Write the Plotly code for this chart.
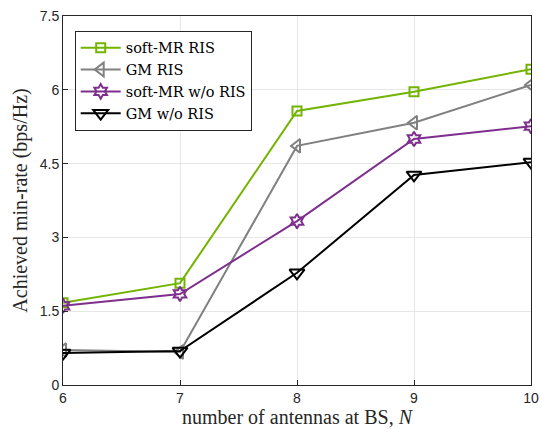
import plotly.graph_objects as go

N = [6, 7, 8, 9, 10]
soft_mr_ris = [1.67, 2.07, 5.57, 5.96, 6.42]
gm_ris = [0.71, 0.67, 4.86, 5.33, 6.10]
soft_mr_wo = [1.61, 1.85, 3.33, 5.00, 5.26]
gm_wo = [0.65, 0.69, 2.28, 4.27, 4.53]

series = [
    ("soft-MR RIS", soft_mr_ris, "#72b400", "square-open", 9),
    ("GM RIS", gm_ris, "#808080", "triangle-left-open", 12),
    ("soft-MR w/o RIS", soft_mr_wo, "#7e2f8e", "hexagram-open", 11),
    ("GM w/o RIS", gm_wo, "#000000", "triangle-down-open", 13),
]

fig = go.Figure()
for name, y, c, sym, sz in series:
    fig.add_trace(go.Scatter(
        x=N, y=y, name=name, mode="lines+markers",
        line=dict(color=c, width=2),
        marker=dict(symbol=sym, size=sz, color=c, line=dict(color=c, width=2)),
    ))

axis_common = dict(
    showline=True, linecolor="#262626", linewidth=1, mirror=True,
    showgrid=True, gridcolor="#e6e6e6", gridwidth=1,
    ticks="inside", ticklen=5, tickcolor="#262626",
    tickfont=dict(family="Liberation Sans", size=14, color="#262626"),
    zeroline=False, automargin=False, ticklabeloverflow="allow",
)
fig.update_layout(
    width=540, height=429,
    margin=dict(l=63, r=9, t=16, b=44),
    paper_bgcolor="white", plot_bgcolor="white",
    xaxis=dict(range=[6, 10], tickvals=[6, 7, 8, 9, 10],
               title=dict(text="number of antennas at BS, <i>N</i>",
                          font=dict(family="Liberation Serif", size=20, color="#262626"),
                          standoff=2),
               **axis_common),
    yaxis=dict(range=[0, 7.5], tickvals=[0, 1.5, 3, 4.5, 6, 7.5],
               ticktext=["0", "1.5", "3", "4.5", "6", "7.5"],
               title=dict(text="Achieved min-rate (bps/Hz)",
                          font=dict(family="Liberation Serif", size=20, color="#262626"),
                          standoff=6),
               **axis_common),
    legend=dict(x=0.025, y=0.96, xanchor="left", yanchor="top",
                bgcolor="white", bordercolor="#262626", borderwidth=1,
                font=dict(family="DejaVu Serif", size=14.5, color="#000000"),
                itemwidth=40, tracegroupgap=0),
    showlegend=True,
)
fig.write_html("out.html")
